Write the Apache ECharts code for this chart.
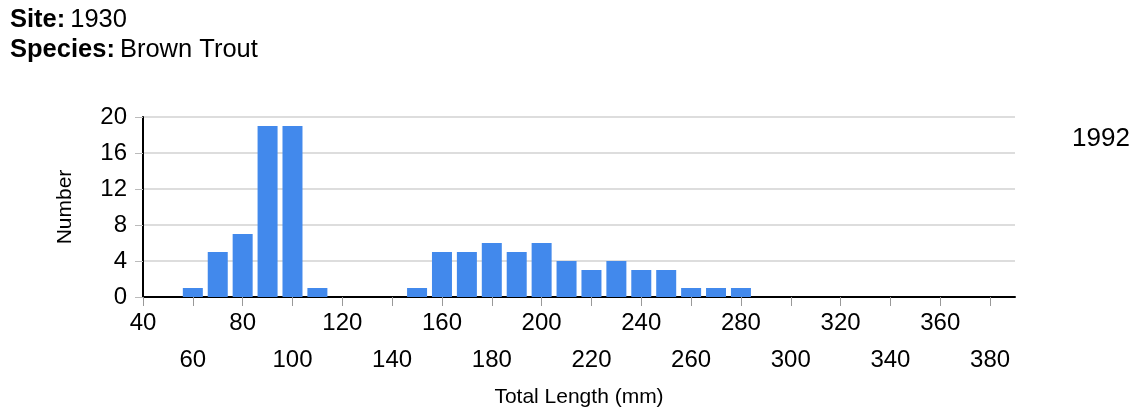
<!DOCTYPE html>
<html>
<head>
<meta charset="utf-8">
<script src="https://cdn.jsdelivr.net/npm/echarts@6/dist/echarts.min.js"></script>
<style>
  html, body { margin: 0; padding: 0; background: #fff; }
  #chart { width: 1134px; height: 414px; }
</style>
</head>
<body>
<div id="chart"></div>
<script>
// length bins (mm) and fish counts
const lengths = [60, 70, 80, 90, 100, 110, 120, 130, 140, 150, 160, 170, 180, 190, 200, 210, 220, 230, 240, 250, 260, 270, 280];
const counts = [1, 5, 7, 19, 19, 1, 0, 0, 0, 1, 5, 5, 6, 5, 6, 4, 3, 4, 3, 3, 1, 1, 1];
const xTicks = [40, 60, 80, 100, 120, 140, 160, 180, 200, 220, 240, 260, 280, 300, 320, 340, 360, 380];

const font = "Arial, 'Liberation Sans', sans-serif";
const chart = echarts.init(document.getElementById("chart"));

const option = {
  animation: false,
  textStyle: { fontFamily: font },
  title: {
    left: 5,
    top: 0,
    text: "{b|Site:} {n|1930}\n{b|Species:} {n|Brown Trout}",
    textStyle: {
      rich: {
        b: { fontFamily: font, fontSize: 25.5, fontWeight: "bold", color: "#000", lineHeight: 30 },
        n: { fontFamily: font, fontSize: 25.5, fontWeight: "normal", color: "#000", lineHeight: 30 },
      },
    },
  },
  graphic: [
    {
      type: "text",
      left: 1072,
      top: 126,
      style: { text: "1992", font: "26px " + font, fill: "#000" },
    },
  ],
  grid: {
    left: 143,
    right: 119,
    top: 117,
    bottom: 117,
  },
  xAxis: {
    type: "value",
    min: 40,
    max: 390,
    interval: 20,
    name: "Total Length (mm)",
    nameLocation: "middle",
    nameGap: 90,
    nameTextStyle: { fontSize: 21, color: "#000" },
    splitLine: { show: false },
    axisLine: { lineStyle: { color: "#000", width: 2 } },
    axisTick: {
      length: 9,
      customValues: xTicks,
      lineStyle: { color: "#999", width: 1 },
    },
    axisLabel: {
      margin: 14,
      customValues: xTicks,
      formatter: (v) =>
        ((v - 40) / 20) % 2 === 0 ? "{t|" + v + "}" : "{d|" + v + "}",
      rich: {
        t: { fontSize: 24, color: "#000", lineHeight: 24 },
        d: { fontSize: 24, color: "#000", lineHeight: 98 },
      },
    },
  },
  yAxis: {
    type: "value",
    min: 0,
    max: 20,
    interval: 4,
    name: "Number",
    nameLocation: "middle",
    nameGap: 67,
    nameTextStyle: { fontSize: 21, color: "#000" },
    axisLine: { show: true, lineStyle: { color: "#000", width: 2 } },
    axisTick: { show: true, length: 8, lineStyle: { color: "#bbb", width: 1 } },
    axisLabel: { fontSize: 24, color: "#000", margin: 16 },
    splitLine: { lineStyle: { color: "#ddd", width: 2 } },
  },
  series: [
    {
      name: "Number",
      type: "bar",
      barWidth: 20,
      data: lengths.map((l, i) => [l, counts[i]]),
      itemStyle: { color: "#4289EC" },
    },
  ],
};

chart.setOption(option);
</script>
</body>
</html>
